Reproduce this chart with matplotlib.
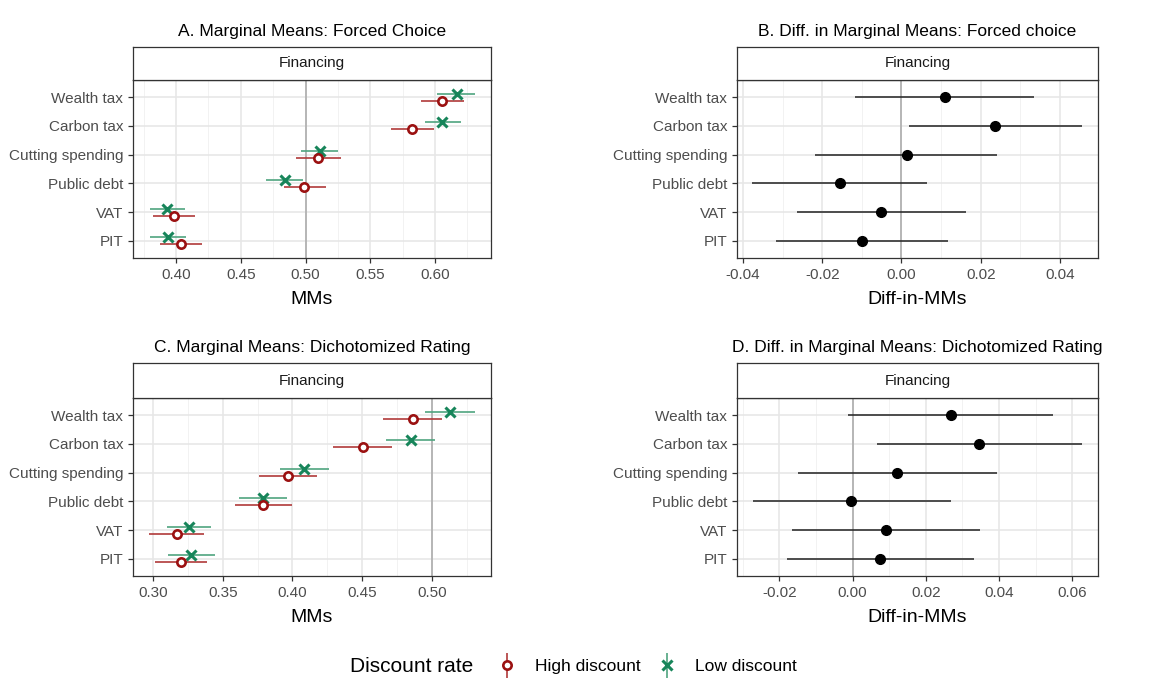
import matplotlib
matplotlib.use("Agg")
import matplotlib.pyplot as plt
from matplotlib.lines import Line2D
from matplotlib.legend_handler import HandlerTuple
from matplotlib.ticker import MultipleLocator
import numpy as np

plt.rcParams['font.family'] = ['Liberation Sans', 'DejaVu Sans']

# categorias de abajo hacia arriba
categorias = ["PIT", "VAT", "Public debt", "Cutting spending", "Carbon tax", "Wealth tax"]

# A. Forced choice - marginal means
fc_high = [0.4036, 0.3985, 0.4992, 0.5095, 0.5825, 0.6054]
fc_high_lo = [0.3879, 0.3825, 0.4833, 0.4923, 0.5661, 0.5889]
fc_high_hi = [0.4200, 0.4144, 0.5157, 0.5272, 0.5995, 0.6226]
fc_low = [0.3938, 0.3933, 0.4838, 0.5108, 0.6057, 0.6167]
fc_low_lo = [0.3800, 0.3800, 0.4694, 0.4964, 0.5923, 0.6018]
fc_low_hi = [0.4075, 0.4069, 0.4979, 0.5254, 0.6198, 0.6308]

# B. Forced choice - diff in MMs
fc_diff = [-0.0100, -0.0051, -0.0156, 0.0013, 0.0236, 0.0110]
fc_diff_lo = [-0.0316, -0.0264, -0.0376, -0.0218, 0.0019, -0.0117]
fc_diff_hi = [0.0117, 0.0162, 0.0065, 0.0241, 0.0455, 0.0334]

# C. Dichotomized rating - marginal means
dr_high = [0.3198, 0.3170, 0.3791, 0.3965, 0.4503, 0.4861]
dr_high_lo = [0.3012, 0.2971, 0.3590, 0.3757, 0.4290, 0.4649]
dr_high_hi = [0.3387, 0.3368, 0.3996, 0.4173, 0.4716, 0.5074]
dr_low = [0.3275, 0.3256, 0.3786, 0.4085, 0.4847, 0.5129]
dr_low_lo = [0.3108, 0.3100, 0.3614, 0.3913, 0.4668, 0.4950]
dr_low_hi = [0.3442, 0.3418, 0.3963, 0.4259, 0.5024, 0.5308]

# D. Dichotomized rating - diff in MMs
dr_diff = [0.0076, 0.0090, -0.0003, 0.0122, 0.0346, 0.0268]
dr_diff_lo = [-0.0178, -0.0166, -0.0272, -0.0149, 0.0066, -0.0012]
dr_diff_hi = [0.0331, 0.0347, 0.0268, 0.0394, 0.0626, 0.0548]

ROJO = "#9b1111"
ROJO_LINEA = "#b03a3a"
VERDE = "#17855a"
VERDE_LINEA = "#4fa47f"
W, H = 1175, 680

fig = plt.figure(figsize=(W / 100, H / 100), dpi=100)


def panel(x0, x1, y_top, y_bot, strip_top, titulo, xlim, paso, ref, xlabel):
    ax = fig.add_axes([x0 / W, 1 - y_bot / H, (x1 - x0) / W, (y_bot - y_top) / H])
    st = fig.add_axes([x0 / W, 1 - y_top / H, (x1 - x0) / W, (y_top - strip_top) / H])
    st.set_xticks([]); st.set_yticks([])
    for s in st.spines.values():
        s.set_color("#333333"); s.set_linewidth(0.9)
    st.text(0.5, 0.5, "Financing", ha="center", va="center", fontsize=11, color="#1a1a1a",
            transform=st.transAxes)
    st.set_title(titulo, fontsize=12.5, pad=8)

    ax.set_xlim(*xlim)
    ax.set_ylim(0.4, 6.6)
    ax.xaxis.set_major_locator(MultipleLocator(paso))
    ax.xaxis.set_minor_locator(MultipleLocator(paso / 2))
    ax.set_yticks(np.arange(1, 7))
    ax.set_yticklabels(categorias)
    ax.grid(True, which="major", color="#e6e6e6", lw=1.1, zorder=0)
    ax.grid(True, which="minor", axis="x", color="#f0f0f0", lw=0.6, zorder=0)
    ax.set_axisbelow(True)
    ax.axvline(ref, color="#a8a8a8", lw=1.1, zorder=1)
    ax.tick_params(axis="both", which="major", length=3.5, width=0.9, color="#333333",
                   labelsize=11, labelcolor="#4d4d4d")
    ax.tick_params(axis="both", which="minor", length=0)
    for s in ax.spines.values():
        s.set_color("#333333"); s.set_linewidth(0.9)
    ax.set_xlabel(xlabel, fontsize=14, labelpad=7)
    return ax


def fmt2(v, pos):
    return f"{v:.2f}"


y = np.arange(1, 7)
d = 0.12

# A
axA = panel(133, 491, 80, 258, 47, "A. Marginal Means: Forced Choice", (0.3668, 0.6432), 0.05, 0.5, "MMs")
axA.hlines(y + d, fc_low_lo, fc_low_hi, color=VERDE_LINEA, lw=1.2, zorder=3)
axA.hlines(y - d, fc_high_lo, fc_high_hi, color=ROJO_LINEA, lw=1.2, zorder=3)
axA.plot(fc_low, y + d, "x", color=VERDE, ms=7, mew=2.2, zorder=4)
axA.plot(fc_high, y - d, "o", mfc="white", mec=ROJO, ms=6, mew=1.9, zorder=4)

# B
axB = panel(737, 1098, 80, 258, 47, "B. Diff. in Marginal Means: Forced choice", (-0.0415, 0.0496), 0.02, 0.0, "Diff-in-MMs")
axB.hlines(y, fc_diff_lo, fc_diff_hi, color="#222222", lw=1.1, zorder=3)
axB.plot(fc_diff, y, "o", color="black", ms=7, zorder=4)

# C
axC = panel(133, 491, 398, 576, 363, "C. Marginal Means: Dichotomized Rating", (0.2857, 0.5423), 0.05, 0.5, "MMs")
axC.hlines(y + d, dr_low_lo, dr_low_hi, color=VERDE_LINEA, lw=1.2, zorder=3)
axC.hlines(y - d, dr_high_lo, dr_high_hi, color=ROJO_LINEA, lw=1.2, zorder=3)
axC.plot(dr_low, y + d, "x", color=VERDE, ms=7, mew=2.2, zorder=4)
axC.plot(dr_high, y - d, "o", mfc="white", mec=ROJO, ms=6, mew=1.9, zorder=4)

# D
axD = panel(737, 1098, 398, 576, 363, "D. Diff. in Marginal Means: Dichotomized Rating", (-0.03155, 0.067), 0.02, 0.0, "Diff-in-MMs")
axD.hlines(y, dr_diff_lo, dr_diff_hi, color="#222222", lw=1.1, zorder=3)
axD.plot(dr_diff, y, "o", color="black", ms=7, zorder=4)

for ax in (axA, axB, axC, axD):
    ax.xaxis.set_major_formatter(plt.FuncFormatter(fmt2))

# leyenda
h_alto = (Line2D([], [], marker="|", color=ROJO_LINEA, ms=18, mew=1.2, ls="none"),
          Line2D([], [], marker="o", mfc="white", mec=ROJO, ms=6, mew=1.9, ls="none"))
h_bajo = (Line2D([], [], marker="|", color=VERDE_LINEA, ms=18, mew=1.2, ls="none"),
          Line2D([], [], marker="x", color=VERDE, ms=7, mew=2.2, ls="none"))
fig.text(350 / W, 1 - 666 / H, "Discount rate", fontsize=15, va="center", ha="left")
fig.legend([h_alto, h_bajo], ["High discount", "Low discount"],
           handler_map={tuple: HandlerTuple(ndivide=1, pad=0)},
           loc="center left", bbox_to_anchor=(497 / W, 1 - 666 / H), ncol=2, frameon=False,
           fontsize=12.5, handlelength=1.2, handletextpad=1.0, columnspacing=0.9,
           borderpad=0, borderaxespad=0)

fig.savefig("out.png", dpi=100)
